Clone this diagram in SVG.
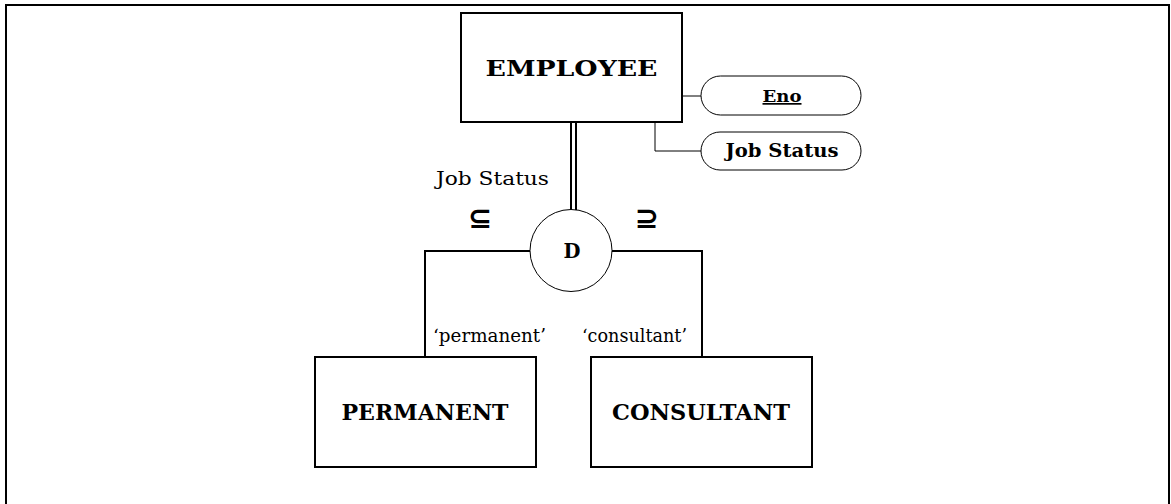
<svg xmlns="http://www.w3.org/2000/svg" width="1171" height="504" viewBox="0 0 1171 504">
<style>
.box{fill:#fff;stroke:#000;stroke-width:2}
.attr{fill:#fff;stroke:#000;stroke-width:1}
.ln{fill:none;stroke:#000;stroke-width:1}
.ln2{fill:none;stroke:#000;stroke-width:2}
.t{font-family:"DejaVu Serif","Liberation Serif",serif;fill:#000}
.b{font-weight:bold}
.sym{font-family:"DejaVu Sans",sans-serif;font-weight:bold;font-size:29px}
</style>
<rect x="6" y="5" width="1163" height="503" fill="#fff" stroke="#000" stroke-width="2"/>
<g id="connectors">
<line class="ln" x1="678" y1="96" x2="701" y2="96"/>
<polyline class="ln" points="655,122 655,151 701,151"/>
<line class="ln2" x1="571" y1="122" x2="571" y2="211" stroke-width="1.5"/>
<line class="ln2" x1="576" y1="122" x2="576" y2="211" stroke-width="1.5"/>
<polyline class="ln2" points="530,251 425,251 425,357"/>
<polyline class="ln2" points="612,251 702,251 702,357"/>
<text class="t" x="492.5" y="185" font-size="18" text-anchor="middle" textLength="113" lengthAdjust="spacingAndGlyphs">Job Status</text>
<text class="sym" x="480" y="228" text-anchor="middle">⊆</text>
<text class="sym" x="647" y="228" text-anchor="middle">⊇</text>
<text class="t" x="489.5" y="342" font-size="18" text-anchor="middle" textLength="113" lengthAdjust="spacingAndGlyphs">‘permanent’</text>
<text class="t" x="634.5" y="342" font-size="18" text-anchor="middle" textLength="105" lengthAdjust="spacingAndGlyphs">‘consultant’</text>
</g>
<g id="employee">
<rect class="box" x="461" y="13" width="221" height="109"/>
<text class="t b" x="571.5" y="76" font-size="22.5" text-anchor="middle" textLength="172" lengthAdjust="spacingAndGlyphs">EMPLOYEE</text>
</g>
<g id="attr-eno">
<rect class="attr" x="701" y="76" width="160" height="39" rx="19.5"/>
<text class="t b" x="782" y="102" font-size="17" text-anchor="middle" text-decoration="underline" textLength="39" lengthAdjust="spacingAndGlyphs">Eno</text>
</g>
<g id="attr-jobstatus">
<rect class="attr" x="701" y="132" width="160" height="38" rx="19"/>
<text class="t b" x="782" y="157" font-size="18" text-anchor="middle" textLength="113" lengthAdjust="spacingAndGlyphs">Job Status</text>
</g>
<g id="disjoint">
<circle cx="571" cy="250.5" r="41" fill="#fff" stroke="#000" stroke-width="1"/>
<text class="t b" x="572" y="258" font-size="21" text-anchor="middle" textLength="17" lengthAdjust="spacingAndGlyphs">D</text>
</g>
<g id="permanent">
<rect class="box" x="315" y="357" width="221" height="110"/>
<text class="t b" x="425" y="420" font-size="22.5" text-anchor="middle" textLength="167" lengthAdjust="spacingAndGlyphs">PERMANENT</text>
</g>
<g id="consultant">
<rect class="box" x="591" y="357" width="221" height="110"/>
<text class="t b" x="701" y="420" font-size="22.5" text-anchor="middle" textLength="178" lengthAdjust="spacingAndGlyphs">CONSULTANT</text>
</g>
</svg>
